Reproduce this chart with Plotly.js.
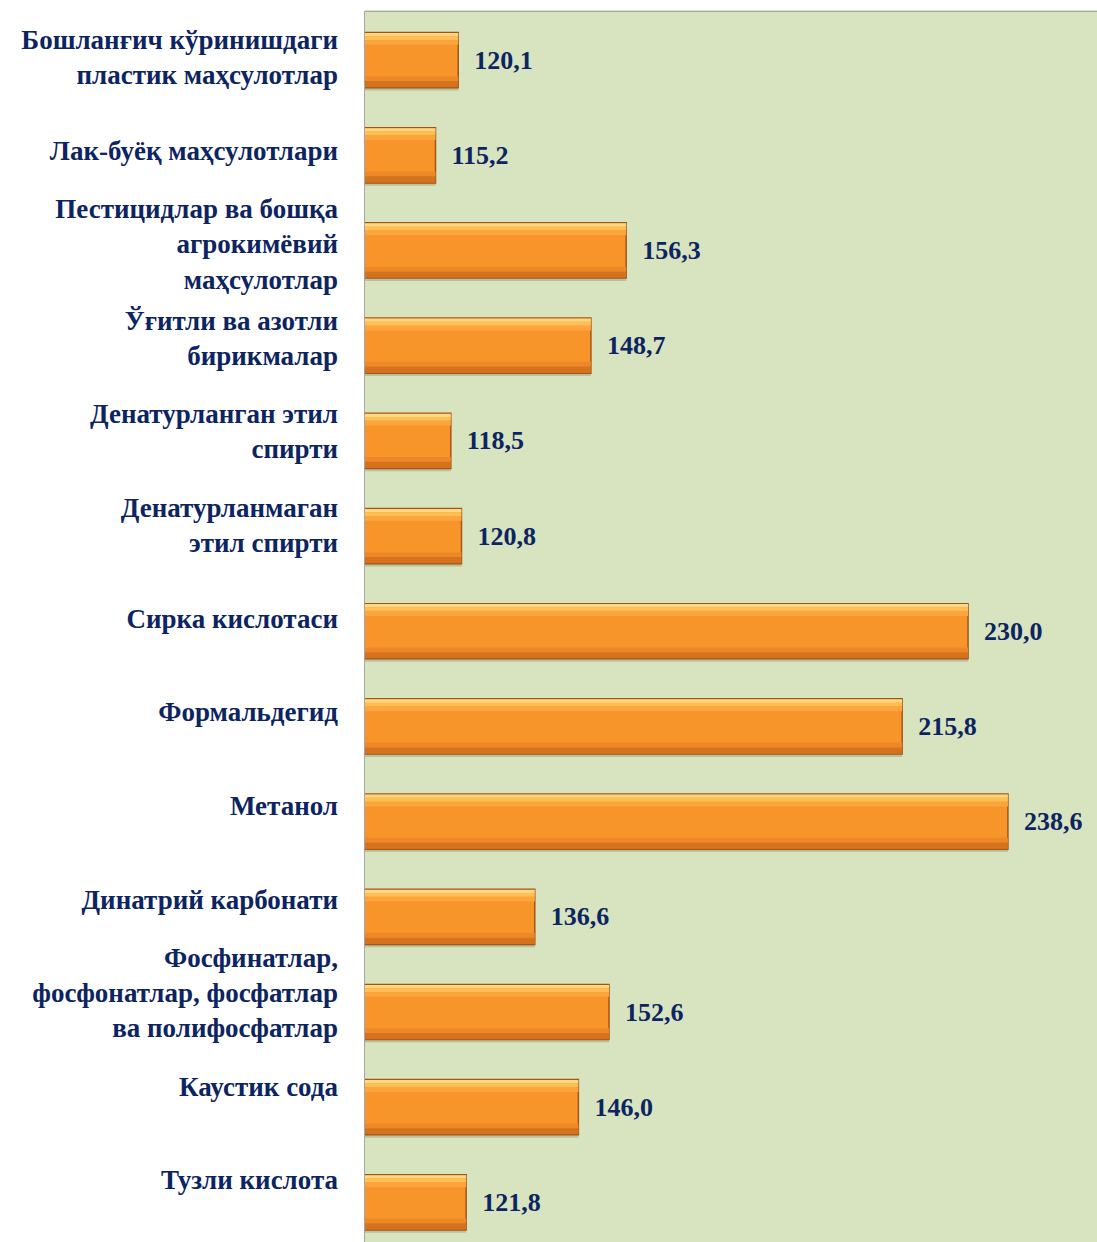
<!DOCTYPE html>
<html>
<head>
<meta charset="utf-8">
<script src="https://cdn.plot.ly/plotly-3.0.1.min.js"></script>
<style>
html,body{margin:0;padding:0;background:#fff;overflow:hidden;}
#chart{width:1097px;height:1250px;}
</style>
</head>
<body>
<div id="chart"></div>
<script>
const categories = [
  "Бошланғич кўринишдаги<br>пластик маҳсулотлар",
  "Лак-буёқ маҳсулотлари",
  "Пестицидлар ва бошқа<br>агрокимёвий<br>маҳсулотлар",
  "Ўғитли ва азотли<br>бирикмалар",
  "Денатурланган этил<br>спирти",
  "Денатурланмаган<br>этил спирти",
  "Сирка кислотаси",
  "Формальдегид",
  "Метанол",
  "Динатрий карбонати",
  "Фосфинатлар,<br>фосфонатлар, фосфатлар<br>ва полифосфатлар",
  "Каустик сода",
  "Тузли кислота"
];
const values = [120.1, 115.2, 156.3, 148.7, 118.5, 120.8, 230.0, 215.8, 238.6, 136.6, 152.6, 146.0, 121.8];

const valueText = values.map(v => "\u2002" + v.toFixed(1).replace(".", ","));
const navy = "#0c2461";
const fam = "Liberation Serif, Times New Roman, serif";

// shading bands drawn over each bar: [offset, width, colour]
const bands = [
  [-0.285, 0.035, "#ffd882"],
  [-0.25, 0.04, "#ffbf55"],
  [-0.21, 0.05, "#fca53c"],
  [0.17, 0.05, "#ee8826"],
  [0.22, 0.065, "#d5721d"]
];

const traces = [
  { // label carrier (first subplot, drawn underneath)
    type: "bar", orientation: "h", x: values, y: categories,
    xaxis: "x", yaxis: "y", opacity: 0, hoverinfo: "skip"
  },
  { // soft shadow
    type: "bar", orientation: "h", x: values, y: categories,
    xaxis: "x2", yaxis: "y2",
    width: 0.58, offset: -0.26,
    marker: {color: "rgba(90,90,60,0.25)", line: {width: 0}},
    hoverinfo: "skip"
  },
  { // main bar
    type: "bar", orientation: "h", x: values, y: categories,
    xaxis: "x2", yaxis: "y2",
    width: 0.58, offset: -0.29,
    marker: {color: "#f8952a", line: {color: "#a65415", width: 1.5}},
    text: valueText, textposition: "outside", cliponaxis: false,
    textfont: {family: fam, size: 26, color: navy, weight: "bold"},
    hoverinfo: "skip"
  }
];
bands.forEach(b => traces.push({
  type: "bar", orientation: "h", x: values, y: categories,
  xaxis: "x2", yaxis: "y2",
  width: b[1], offset: b[0],
  marker: {color: b[2], line: {width: 0}},
  hoverinfo: "skip"
}));

const layout = {
  width: 1097, height: 1250,
  margin: {l: 365, r: 0, t: 10, b: 0},
  paper_bgcolor: "#ffffff",
  plot_bgcolor: "#d8e4bf",
  barmode: "overlay",
  showlegend: false,
  xaxis: {anchor: "y", domain: [0, 1], range: [100, 257.8], visible: false},
  yaxis: {
    anchor: "x", type: "category", autorange: "reversed", domain: [0.0187, 1],
    showgrid: false, zeroline: false, showline: false, ticks: "",
    ticklabelstandoff: 26,
    tickfont: {family: fam, size: 27, color: navy, weight: "bold"}
  },
  xaxis2: {
    anchor: "y2", domain: [0, 1],
    range: [100, 257.8], showgrid: false, zeroline: false, showticklabels: false,
    showline: true, mirror: true, linecolor: "#a6a6a6", linewidth: 1.5, ticks: ""
  },
  yaxis2: {
    anchor: "x2", type: "category", autorange: "reversed", domain: [0, 0.998],
    showticklabels: false, showgrid: false, zeroline: false,
    showline: true, linecolor: "#a6a6a6", linewidth: 1.5, ticks: ""
  }
};

Plotly.newPlot("chart", traces, layout, {displayModeBar: false, staticPlot: true});
</script>
</body>
</html>
